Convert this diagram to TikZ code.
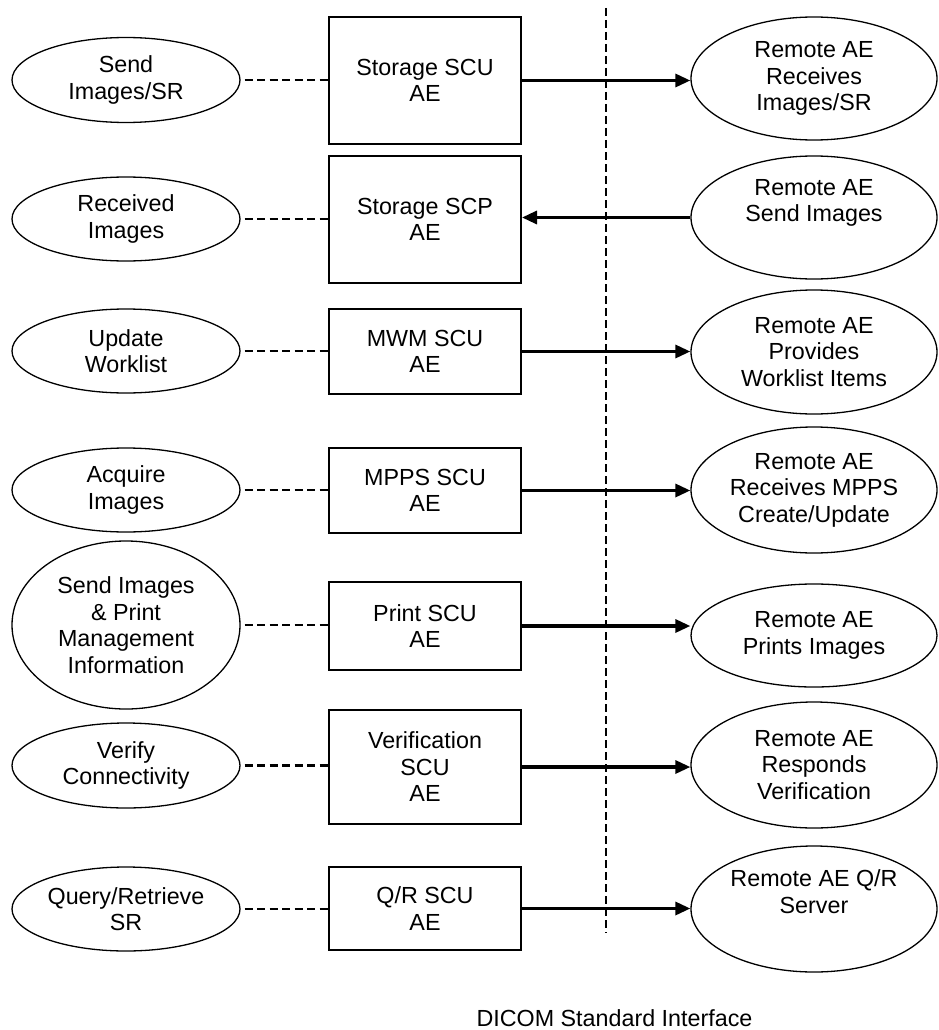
\documentclass[tikz,border=0pt]{standalone}
\usepackage{fontspec}
\setmainfont{Liberation Sans}
\usetikzlibrary{arrows.meta,shapes.geometric}

\begin{document}
\begin{tikzpicture}[x=1pt,y=-1pt,
  font=\fontsize{23.3}{26.5}\selectfont,
  task/.style={draw,ellipse,line width=1.3pt,minimum width=228pt,inner sep=-6pt,align=center},
  aebox/.style={draw,line width=2pt,minimum width=192pt,inner sep=0pt,align=center},
  remote/.style={draw,ellipse,line width=1.3pt,minimum width=246pt,inner sep=-6pt,align=center},
  link/.style={line width=2.8pt,dash pattern=on 8pt off 4.5pt,shorten <=4pt},
  flow/.style={line width=3.2pt,-{Triangle[length=15pt,width=13pt]}}]
  \useasboundingbox (0,0) rectangle (939,1030);

  % local real-world activities
  \node[task,minimum height=85pt]  (t1) at (126,80)    {Send\\Images/SR};
  \node[task,minimum height=84pt]  (t2) at (126,219)   {Received\\Images};
  \node[task,minimum height=84pt]  (t3) at (126,351)   {Update\\Worklist};
  \node[task,minimum height=84pt]  (t4) at (126,490)   {Acquire\\Images};
  \node[task,minimum height=168pt] (t5) at (126,625)   {Send Images\\\& Print\\Management\\Information};
  \node[task,minimum height=85pt]  (t6) at (126,765.5) {Verify\\Connectivity};
  \node[task,minimum height=84pt]  (t7) at (126,909)   {Query/Retrieve\\SR};

  % application entities
  \node[aebox,minimum height=127pt] (b1) at (425,80.5)  {Storage SCU\\AE};
  \node[aebox,minimum height=127pt] (b2) at (425,219.5) {Storage SCP\\AE};
  \node[aebox,minimum height=85pt]  (b3) at (425,351.5) {MWM SCU\\AE};
  \node[aebox,minimum height=85pt]  (b4) at (425,490.5) {MPPS SCU\\AE};
  \node[aebox,minimum height=88pt]  (b5) at (425,626)   {Print SCU\\AE};
  \node[aebox,minimum height=114pt] (b6) at (425,767)   {Verification\\SCU\\AE};
  \node[aebox,minimum height=83pt]  (b7) at (425,908.5) {Q/R SCU\\AE};

  % remote activities
  \node[remote,minimum height=123pt] (r1) at (814,78.5)  {Remote AE\\Receives\\Images/SR};
  \node[remote,minimum height=123pt] (r2) at (814,217.5) {Remote AE\\Send Images\\\strut};
  \node[remote,minimum height=124pt] (r3) at (814,352)   {Remote AE\\Provides\\Worklist Items};
  \node[remote,minimum height=126pt] (r4) at (814,490)   {Remote AE\\Receives MPPS\\Create/Update};
  \node[remote,minimum height=103pt] (r5) at (814,635.5) {Remote AE\\Prints Images};
  \node[remote,minimum height=126pt] (r6) at (814,765)   {Remote AE\\Responds\\Verification};
  \node[remote,minimum height=126pt] (r7) at (814,909)   {Remote AE Q/R\\Server\\\strut};

  % interface boundary
  \coordinate (itop) at (606,8);
  \coordinate (ibot) at (606,933);
  \draw[line width=2.2pt,dash pattern=on 8pt off 4pt] (itop) -- (ibot);
  \node (dicom) at (614.5,1018) {DICOM Standard Interface};

  \foreach \i in {1,...,7}
    \draw[link] (t\i.east) -- (t\i.east -| b\i.west);
  \foreach \i in {1,3,4,5,6,7}
    \draw[flow] (b\i.east) -- (b\i.east -| r\i.west);
  \draw[flow] (r2.west) -- (r2.west -| b2.east);
\end{tikzpicture}
\end{document}
